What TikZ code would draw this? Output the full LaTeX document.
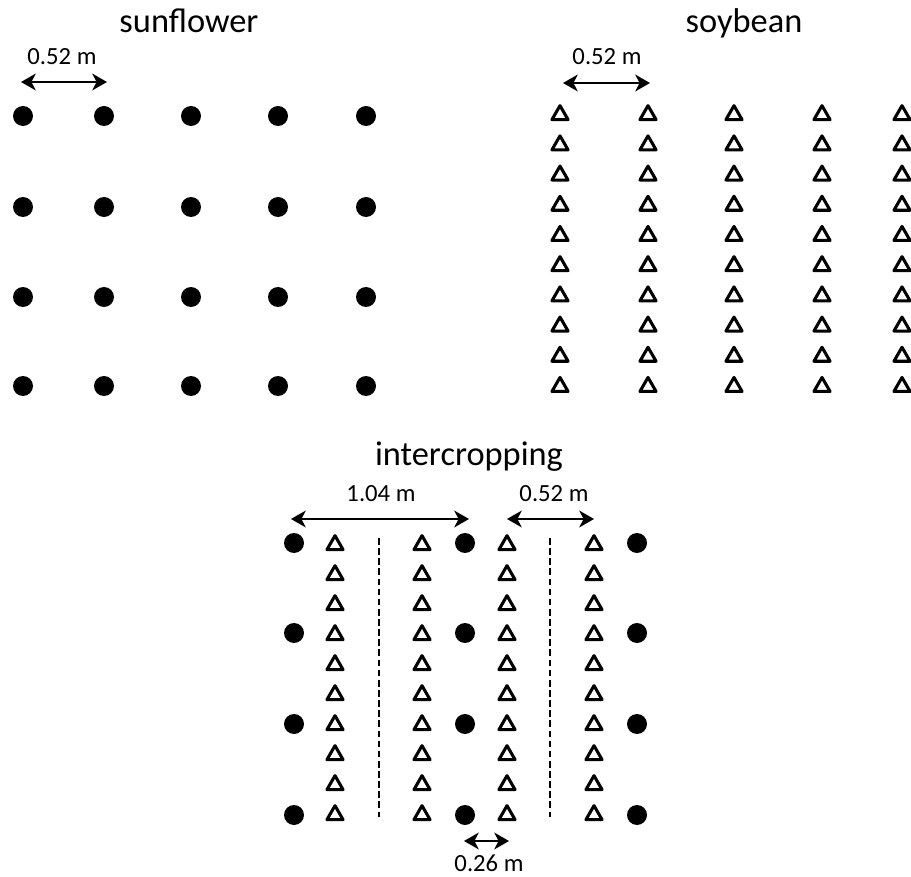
\documentclass[tikz,border=0pt]{standalone}
\usepackage{fontspec}
\setmainfont{Carlito}
\usetikzlibrary{shapes.geometric, arrows.meta, positioning, calc}

\begin{document}
\begin{tikzpicture}[x=0.75pt, y=-0.75pt,
    plant/.style={draw=none, circle, fill=black, inner sep=0pt, minimum size=15pt},
    bean/.style={draw, regular polygon, regular polygon sides=3, line width=2.3pt, line join=round, inner sep=0pt, minimum size=14pt},
    title/.style={anchor=base, font=\fontsize{25.8}{30}\selectfont},
    dist/.style={anchor=base, font=\fontsize{18.5}{22}\selectfont},
    span/.style={{Stealth[length=11pt, width=12.5pt, inset=3.2pt]}-{Stealth[length=11pt, width=12.5pt, inset=3.2pt]}, line width=2pt},
    midrow/.style={line width=2pt, dash pattern=on 5pt off 2.6pt}]
\useasboundingbox (0,0) rectangle (911,877);

% Titles
\node[title] (tsun) at (189,33) {sunflower};
\node[title] (tsoy) at (744,33) {soybean};
\node[title] (tinter) at (469,465) {intercropping};

% Sunflower grid
\foreach \c/\x in {1/23, 2/104, 3/191, 4/278, 5/366} {
  \foreach \r/\y in {1/116, 2/207, 3/297, 4/386} {
    \node[plant] (sf-\c-\r) at (\x,\y) {};
  }
}

% Soybean grid
\foreach \c/\x in {1/560, 2/648, 3/734, 4/822, 5/902} {
  \foreach \r in {0,...,9} {
    \node[bean] (sb-\c-\r) at (\x,{115+30.2*\r}) {};
  }
}

% Intercropping: sunflower rows
\foreach \c/\x in {1/294, 2/465, 3/637} {
  \foreach \r/\y in {1/543, 2/633, 3/724, 4/815} {
    \node[plant] (ic-sf-\c-\r) at (\x,\y) {};
  }
}

% Intercropping: soybean rows
\foreach \c/\x in {1/335, 2/422, 3/507, 4/594} {
  \foreach \r in {0,...,9} {
    \node[bean] (ic-sb-\c-\r) at (\x,{545+30*\r}) {};
  }
}

% Dashed mid lines
\coordinate (midA-top) at (379,538);
\coordinate (midA-bot) at (379,817);
\coordinate (midB-top) at (550,538);
\coordinate (midB-bot) at (550,817);
\draw[midrow] (midA-top) -- (midA-bot);
\draw[midrow] (midB-top) -- (midB-bot);

% Distance arrows
\coordinate (sfL) at (21,82);
\coordinate (sfR) at (107,82);
\draw[span] (sfL) -- (sfR);
\node[dist] (dsun) at (62,65) {0.52 m};

\coordinate (sbL) at (563,83);
\coordinate (sbR) at (650,83);
\draw[span] (sbL) -- (sbR);
\node[dist] (dsoy) at (607,65) {0.52 m};

\coordinate (wideL) at (291,519);
\coordinate (wideR) at (469,519);
\draw[span] (wideL) -- (wideR);
\node[dist] (dwide) at (381,501) {1.04 m};

\coordinate (narL) at (507,519);
\coordinate (narR) at (594,519);
\draw[span] (narL) -- (narR);
\node[dist] (dnar) at (554,501) {0.52 m};

\coordinate (gapL) at (464,841);
\coordinate (gapR) at (509,841);
\draw[span] (gapL) -- (gapR);
\node[dist] (dgap) at (489,871) {0.26 m};
\end{tikzpicture}
\end{document}
